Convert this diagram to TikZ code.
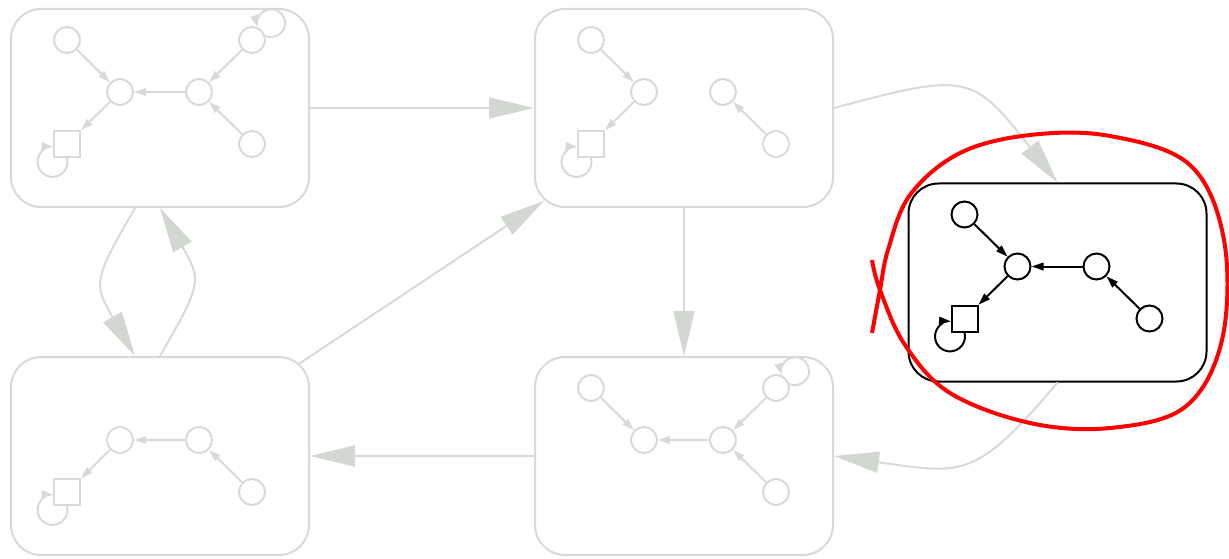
\documentclass[tikz,border=0pt]{standalone}
\usetikzlibrary{arrows.meta}
\definecolor{faded}{RGB}{217,217,217}
\definecolor{fadedtip}{RGB}{211,215,209}
\begin{document}
\begin{tikzpicture}[x=1pt, y=1pt, line width=2pt, % 1 unit = 1pt
  frame/.style={draw, rounded corners=30pt, minimum width=298pt, minimum height=198pt},
  state/.style={draw, circle, minimum size=26pt, inner sep=0pt},
  sink/.style={draw, rectangle, minimum size=26pt, inner sep=0pt},
  move/.style={-{Triangle[length=12pt, width=7.5pt]}},
  trans/.style={faded, -{Triangle[length=45pt, width=21pt, color=fadedtip]}}]
  \useasboundingbox (0,0) rectangle (1229,558);

  % Top left: full graph
  \begin{scope}[shift={(160,450)}, faded]
    \node[frame] (A) at (0,0) {};
    \foreach \n/\x/\y in {1/-93/68, 2/-40/16, 3/39/16, 4/92/68, 5/92/-36}
      \node[state] (A\n) at (\x,\y) {};
    \node[sink] (A6) at (-93,-36) {};
    \foreach \u/\v in {1/2, 3/2, 4/3, 5/3, 2/6}
      \draw[move] (A\u) -- (A\v);
    \draw[move] (A4.17) arc[start angle=246, end angle=557, radius=14]; % self loops
    \draw[move] (A6.south) arc[start angle=15, end angle=-274, radius=15];
  \end{scope}

  % Top middle: split in two parts
  \begin{scope}[shift={(684,450)}, faded]
    \node[frame] (B) at (0,0) {};
    \foreach \n/\x/\y in {1/-93/68, 2/-40/16, 3/39/16, 5/92/-36}
      \node[state] (B\n) at (\x,\y) {};
    \node[sink] (B6) at (-93,-36) {};
    \foreach \u/\v in {1/2, 5/3, 2/6}
      \draw[move] (B\u) -- (B\v);
    \draw[move] (B6.south) arc[start angle=15, end angle=-274, radius=15];
  \end{scope}

  % Right: current state
  \begin{scope}[shift={(1057.5,275.5)}]
    \node[frame] (C) at (0,0) {};
    \foreach \n/\x/\y in {1/-93/68, 2/-40/16, 3/39/16, 5/92/-36}
      \node[state] (C\n) at (\x,\y) {};
    \node[sink] (C6) at (-93,-36) {};
    \foreach \u/\v in {1/2, 3/2, 5/3, 2/6}
      \draw[move] (C\u) -- (C\v);
    \draw[move] (C6.south) arc[start angle=15, end angle=-274, radius=15];
  \end{scope}

  % Bottom left
  \begin{scope}[shift={(160,102)}, faded]
    \node[frame] (D) at (0,0) {};
    \foreach \n/\x/\y in {2/-40/16, 3/39/16, 5/92/-36}
      \node[state] (D\n) at (\x,\y) {};
    \node[sink] (D6) at (-93,-36) {};
    \foreach \u/\v in {3/2, 5/3, 2/6}
      \draw[move] (D\u) -- (D\v);
    \draw[move] (D6.south) arc[start angle=15, end angle=-274, radius=15];
  \end{scope}

  % Bottom middle: no sink
  \begin{scope}[shift={(684,102)}, faded]
    \node[frame] (E) at (0,0) {};
    \foreach \n/\x/\y in {1/-93/68, 2/-40/16, 3/39/16, 4/92/68, 5/92/-36}
      \node[state] (E\n) at (\x,\y) {};
    \foreach \u/\v in {1/2, 3/2, 4/3, 5/3}
      \draw[move] (E\u) -- (E\v);
    \draw[move] (E4.17) arc[start angle=246, end angle=557, radius=14];
  \end{scope}

  % Transitions between frames
  \draw[trans] (A) -- (B);
  \draw[trans] (B.east) to[out=15, in=128, looseness=1.5] (C.north);
  \draw[trans] (C.south) to[out=-130, in=-8, looseness=1.4] (E.east);
  \draw[trans] (E) -- (D);
  \draw[trans, shorten <=-13pt, shorten >=-12pt] (D) -- (B); % reach the round corners
  \draw[trans] (B) -- (E);
  \draw[trans] ([xshift=-25pt]A.south) to[out=-120, in=120, looseness=1.45] ([xshift=-25pt]D.north);
  \draw[trans] (D.north) to[out=60, in=-60, looseness=1.45] (A.south);

  % Hand drawn ring round the current state
  \draw[red, line width=4pt] plot[smooth, tension=0.6] coordinates {
    (872,298) (880,268) (905,213) (950,165) (1030,135) (1110,130) (1185,151)
    (1222,218) (1224,318) (1190,393) (1110,422) (1030,423) (960,405)
    (910,363) (888,308) (880,268) (872,225)};
\end{tikzpicture}
\end{document}
